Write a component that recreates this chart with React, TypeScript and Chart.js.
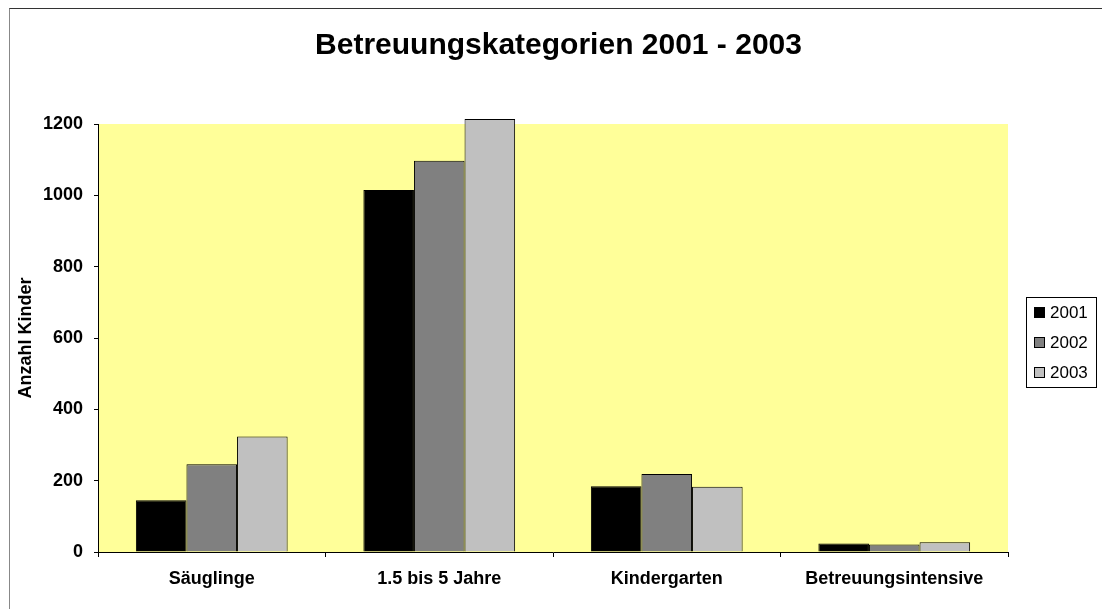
import React, { useEffect, useRef } from "react";
import { Chart, registerables } from "chart.js";

Chart.register(...registerables);

const categories = ["Säuglinge", "1.5 bis 5 Jahre", "Kindergarten", "Betreuungsintensive"];
const seriesLabels = ["2001", "2002", "2003"];
const values2001 = [145, 1015, 184, 24];
const values2002 = [246, 1097, 219, 21];
const values2003 = [324, 1214, 183, 27];
const seriesColors = ["#000000", "#808080", "#C0C0C0"];
const yTicks = [0, 200, 400, 600, 800, 1000, 1200];

const FONT = "'Liberation Sans', Arial, sans-serif";

const bgPlugin = {
  id: "bgPlugin",
  afterLayout(chart: any) {
    const t = chart.titleBlock;
    if (t) {
      t.left = 15;
      t.right = 1102;
      t.width = 1087;
    }
  },
  beforeDraw(chart: any) {
    const { ctx, chartArea } = chart;
    ctx.save();
    ctx.fillStyle = "#ffffff";
    ctx.fillRect(0, 0, chart.width, chart.height);
    ctx.fillStyle = "#FFFF99";
    ctx.fillRect(chartArea.left, chartArea.top, chartArea.right - chartArea.left, chartArea.bottom - chartArea.top);
    ctx.restore();
  },
};

const legendPlugin = {
  id: "boxLegend",
  afterDraw(chart: any) {
    const { ctx } = chart;
    ctx.save();
    ctx.strokeStyle = "#000000";
    ctx.lineWidth = 1;
    ctx.strokeRect(1026.5, 297.5, 70, 90);
    ctx.font = `17px ${FONT}`;
    ctx.textBaseline = "middle";
    ctx.textAlign = "left";
    chart.data.datasets.forEach((ds: any, i: number) => {
      const cy = 312 + i * 30;
      ctx.fillStyle = ds.backgroundColor;
      ctx.fillRect(1034, cy - 5, 11, 11);
      ctx.strokeStyle = "#000000";
      ctx.strokeRect(1034.5, cy - 4.5, 10, 10);
      ctx.fillStyle = "#000000";
      ctx.fillText(ds.label, 1050, cy + 1);
    });
    ctx.restore();
  },
};

export default function App() {
  const ref = useRef<HTMLCanvasElement | null>(null);
  useEffect(() => {
    if (!ref.current) return;
    const data = [values2001, values2002, values2003];
    const chart = new Chart(ref.current, {
      type: "bar",
      data: {
        labels: categories,
        datasets: seriesLabels.map((l, i) => ({
          label: l,
          data: data[i],
          backgroundColor: seriesColors[i],
          borderColor: "#000000",
          borderWidth: 1,
          categoryPercentage: 0.667,
          barPercentage: 1,
          clip: false as any,
        })),
      },
      options: {
        animation: false,
        responsive: false,
        maintainAspectRatio: false,
        layout: { padding: { left: 10, right: 94, top: 0, bottom: 0 } },
        plugins: {
          legend: { display: false },
          tooltip: { enabled: false },
          title: {
            display: true,
            text: "Betreuungskategorien 2001 - 2003",
            color: "#000000",
            font: { family: FONT, size: 30, weight: "bold", lineHeight: 1.2 },
            padding: { top: 28, bottom: 60 },
          },
        },
        scales: {
          x: {
            grid: { display: true, drawOnChartArea: false, drawTicks: true, tickLength: 5, color: "#000000", offset: true },
            border: { display: true, color: "#000000", width: 1 },
            ticks: { color: "#000000", font: { family: FONT, size: 18, weight: "bold" }, padding: 11.5, maxRotation: 0 },
            afterFit(scale: any) { scale.height = 57; },
          },
          y: {
            min: 0,
            max: 1200,
            afterBuildTicks(scale: any) { scale.ticks = yTicks.map((v) => ({ value: v })); },
            grid: { display: true, drawOnChartArea: false, drawTicks: true, tickLength: 4, color: "#000000" },
            border: { display: true, color: "#000000", width: 1 },
            ticks: {
              color: "#000000",
              font: { family: FONT, size: 18, weight: "bold" },
              padding: 11,
              callback: (v: any) => String(v),
            },
            title: {
              display: true,
              text: "Anzahl Kinder",
              color: "#000000",
              font: { family: FONT, size: 18, weight: "bold", lineHeight: 1.2 },
              padding: { top: 5, bottom: 0 },
            },
            afterFit(scale: any) { scale.width = 88; },
          },
        },
      },
      plugins: [bgPlugin, legendPlugin],
    });
    return () => chart.destroy();
  }, []);
  return (
    <div style={{ position: "fixed", left: 0, top: 0, width: 1102, height: 609, background: "#fff", overflow: "hidden" }}>
      <canvas ref={ref} width={1102} height={609} style={{ position: "absolute", left: 0, top: 0, width: 1102, height: 609 }} />
      <div style={{ position: "absolute", left: 9, top: 8, width: 1200, height: 700, borderTop: "1px solid #333", borderLeft: "1px solid #888", boxSizing: "border-box", pointerEvents: "none" }} />
    </div>
  );
}
